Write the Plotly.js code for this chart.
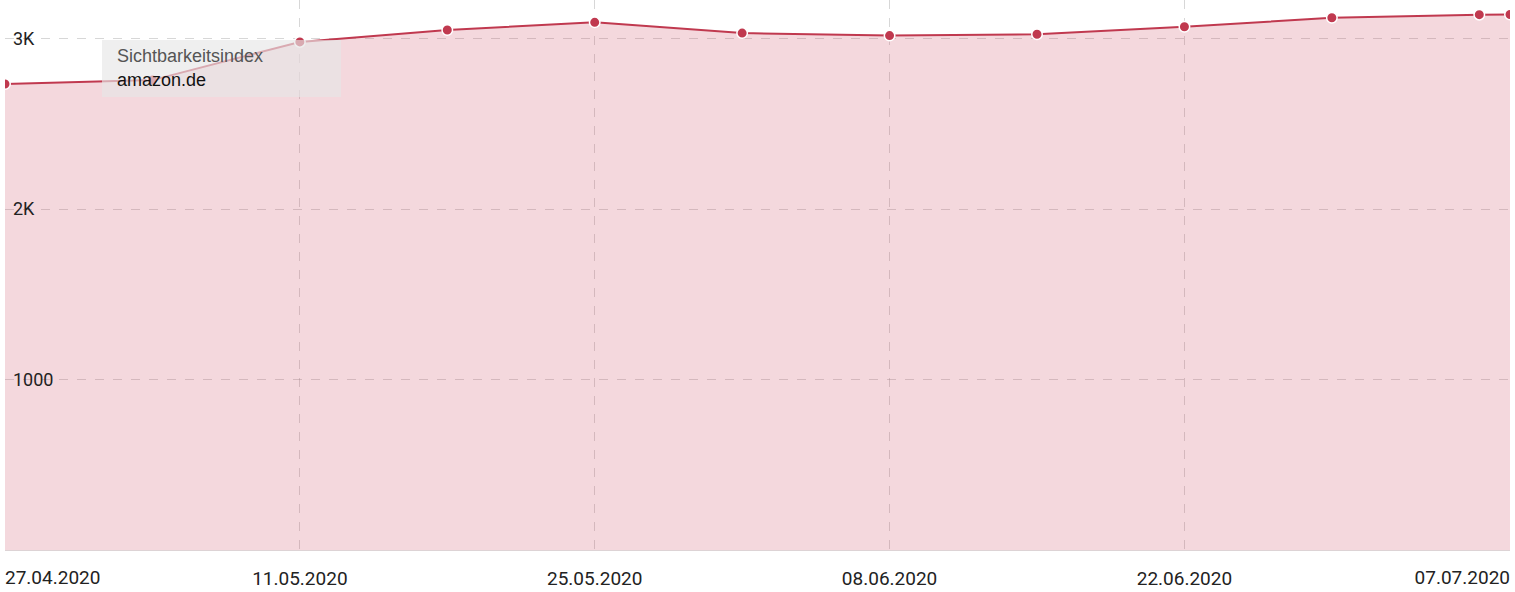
<!DOCTYPE html>
<html>
<head>
<meta charset="utf-8">
<script src="https://cdn.plot.ly/plotly-3.0.1.min.js"></script>
<style>
  html, body { margin: 0; padding: 0; background: #fff; }
  #chart { width: 1515px; height: 592px; }
</style>
</head>
<body>
<div id="chart"></div>
<script>
(function () {
  'use strict';

  // Sichtbarkeitsindex amazon.de, weekly (last point is the current day)
  var dates = ['2020-04-27', '2020-05-04', '2020-05-11', '2020-05-18', '2020-05-25', '2020-06-01',
    '2020-06-08', '2020-06-15', '2020-06-22', '2020-06-29', '2020-07-06', '2020-07-07 11:00'];
  var values = [2734, 2757, 2981, 3051, 3096, 3033, 3018, 3026, 3070, 3123, 3141, 3142];

  var midTicks = ['2020-05-11', '2020-05-25', '2020-06-08', '2020-06-22'];
  var midTickText = ['11.05.2020', '25.05.2020', '08.06.2020', '22.06.2020'];
  var firstTick = ['2020-04-27'];
  var firstTickText = ['27.04.2020'];
  var lastTick = ['2020-07-07 11:00'];
  var lastTickText = ['07.07.2020'];

  var yTicks = [1000, 2000, 3000];
  var yTickText = ['1000', '2K', '3K'];

  var seriesLabel = 'Sichtbarkeitsindex';
  var domainLabel = 'amazon.de';

  var COLORS = {
    line: '#c0394f',
    fill: 'rgba(200,58,85,0.2)',
    grid: 'rgba(140,140,140,0.35)',
    axis: '#ddd3d5',
    text: '#222222',
  };

  var xTickFont = { family: 'Roboto, sans-serif', size: 19, color: COLORS.text };
  var yTickFont = { family: 'Roboto, sans-serif', size: 18, color: COLORS.text };

  var trace = {
    x: dates,
    y: values,
    type: 'scatter',
    mode: 'lines+markers',
    fill: 'tozeroy',
    fillcolor: COLORS.fill,
    line: { color: COLORS.line, width: 2 },
    marker: { color: COLORS.line, size: 10.5, line: { color: '#ffffff', width: 1.5 } },
    hoverinfo: 'skip',
    showlegend: false,
  };

  var xRange = [dates[0], dates[dates.length - 1]];
  var yRange = [0, 3227];

  function xAxisBase() {
    return {
      type: 'date',
      range: xRange,
      tickmode: 'array',
      showgrid: true,
      gridcolor: COLORS.grid,
      griddash: 'dash',
      gridwidth: 1,
      zeroline: false,
      ticks: '',
      tickfont: xTickFont,
      ticklabelstandoff: 11,
      ticklabeloverflow: 'allow',
      fixedrange: true,
    };
  }

  // centered labels on the main axis, first/last date aligned to the edges
  var xaxis = Object.assign(xAxisBase(), {
    tickvals: midTicks,
    ticktext: midTickText,
    showline: true,
    linecolor: COLORS.axis,
    linewidth: 1,
  });
  var xaxis2 = Object.assign(xAxisBase(), {
    overlaying: 'x',
    matches: 'x',
    tickvals: firstTick,
    ticktext: firstTickText,
    ticklabelposition: 'outside right',
    ticklabelstandoff: 14,
  });
  var xaxis3 = Object.assign(xAxisBase(), {
    overlaying: 'x',
    matches: 'x',
    tickvals: lastTick,
    ticktext: lastTickText,
    ticklabelposition: 'outside left',
    ticklabelstandoff: 14,
  });

  var layout = {
    width: 1515,
    height: 592,
    margin: { t: 0, r: 5, b: 42, l: 5 },
    paper_bgcolor: '#ffffff',
    plot_bgcolor: '#ffffff',
    font: { family: 'Roboto, sans-serif', color: COLORS.text },
    xaxis: xaxis,
    xaxis2: xaxis2,
    xaxis3: xaxis3,
    // gridlines only
    yaxis: {
      range: yRange,
      tickmode: 'array',
      tickvals: yTicks,
      showticklabels: false,
      ticks: '',
      showgrid: true,
      gridcolor: COLORS.grid,
      griddash: 'dash',
      zeroline: false,
      showline: false,
      fixedrange: true,
    },
    // labels drawn just inside the left edge of the plot
    yaxis2: {
      overlaying: 'y',
      matches: 'y',
      range: yRange,
      side: 'right',
      anchor: 'free',
      position: 0,
      tickmode: 'array',
      tickvals: yTicks,
      ticktext: yTickText,
      ticks: '',
      ticklabelstandoff: 7,
      tickfont: yTickFont,
      showgrid: false,
      zeroline: false,
      showline: false,
      fixedrange: true,
    },
    shapes: [{
      type: 'rect',
      xref: 'paper', yref: 'paper',
      x0: 97 / 1505, x1: 336 / 1505,
      y0: 1 - 97 / 549.6, y1: 1 - 40 / 549.6,
      fillcolor: 'rgba(230,230,230,0.65)',
      line: { width: 0 },
      layer: 'above',
    }],
    annotations: [
      {
        xref: 'paper', yref: 'paper',
        x: 110 / 1505, y: 1 - 55.5 / 549.6,
        xanchor: 'left', yanchor: 'middle',
        text: seriesLabel,
        showarrow: false,
        font: { family: 'Liberation Sans, Arial, sans-serif', size: 18, color: '#555555' },
      },
      {
        xref: 'paper', yref: 'paper',
        x: 110 / 1505, y: 1 - 80 / 549.6,
        xanchor: 'left', yanchor: 'middle',
        text: domainLabel,
        showarrow: false,
        font: { family: 'Liberation Sans, Arial, sans-serif', size: 18, color: '#111111' },
      },
    ],
  };

  var traces = [
    trace,
    { x: [], y: [], xaxis: 'x2', type: 'scatter', hoverinfo: 'skip', showlegend: false },
    { x: [], y: [], xaxis: 'x3', type: 'scatter', hoverinfo: 'skip', showlegend: false },
    { x: [], y: [], yaxis: 'y2', type: 'scatter', hoverinfo: 'skip', showlegend: false },
  ];

  Plotly.newPlot('chart', traces, layout, { displayModeBar: false, staticPlot: true });
})();
</script>
</body>
</html>
